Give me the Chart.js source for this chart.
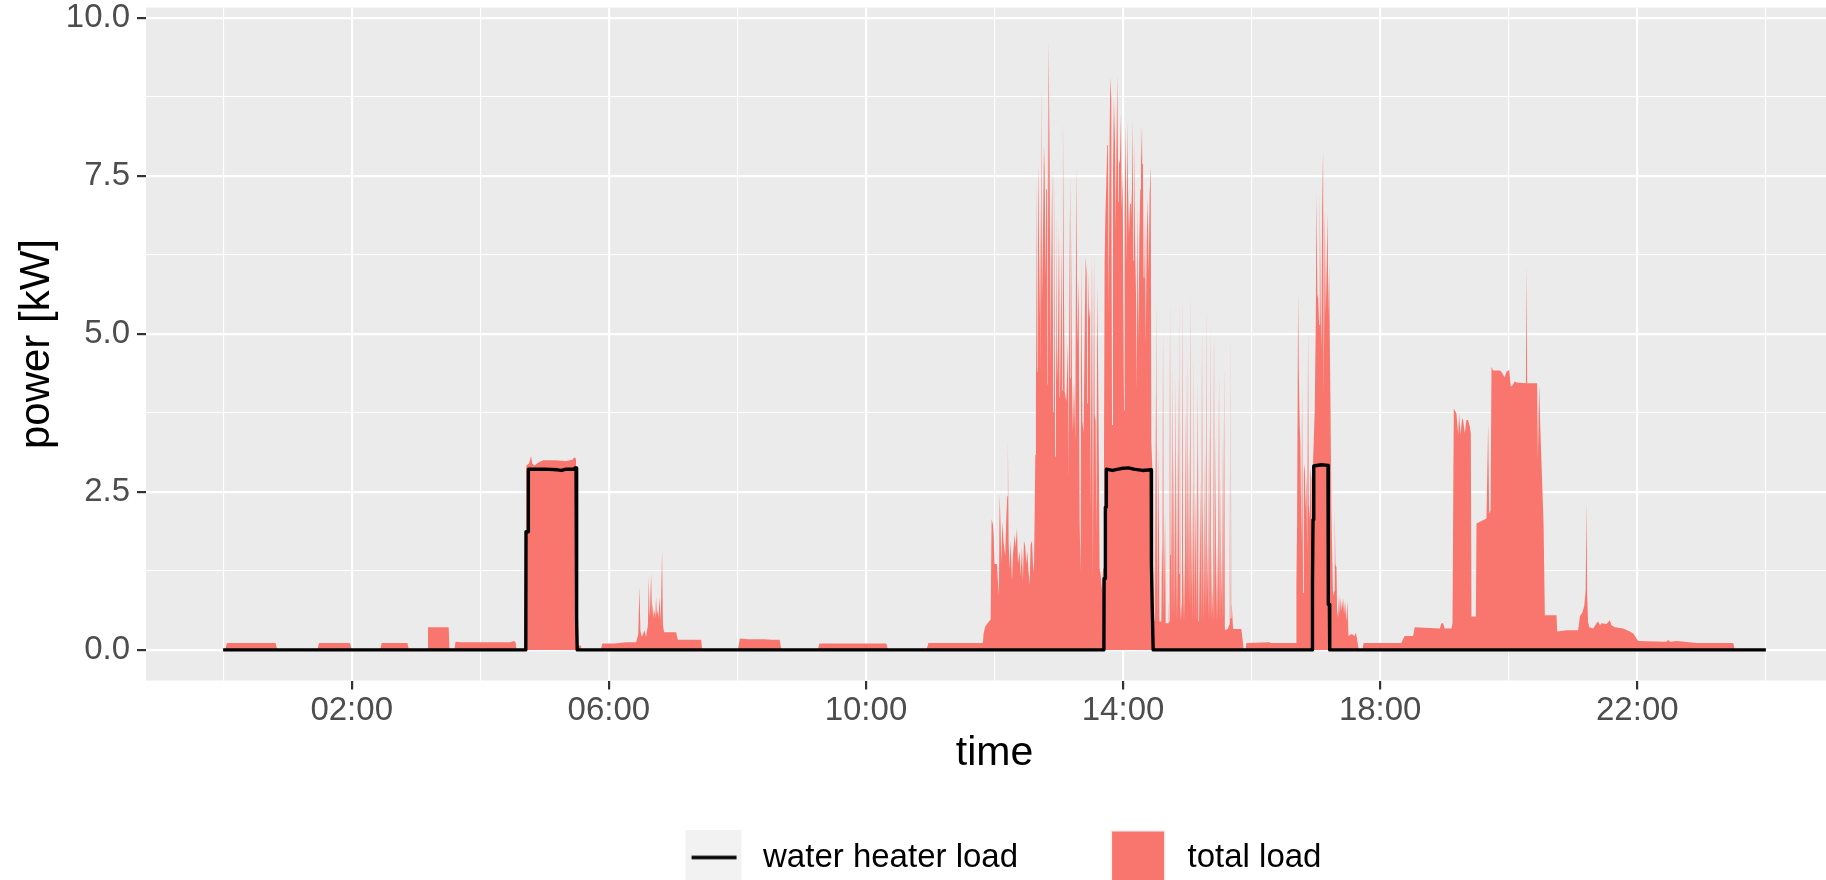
<!DOCTYPE html>
<html><head><meta charset="utf-8">
<script src="https://cdn.jsdelivr.net/npm/chart.js@4/dist/chart.umd.min.js"></script>
<style>
html,body{margin:0;padding:0;background:#ffffff;overflow:hidden;}
#wrap{position:relative;width:1843px;height:884px;}
</style></head><body>
<div id="wrap"><canvas id="c"></canvas></div>
<script>
// ---------- data (minutes since midnight, kW) ----------
const totalMinutes = [
  0, 2, 3.5, 49, 50.5,
  88, 89.5, 118.5, 120,
  146.5, 148, 172, 173.5,
  190.5, 191.2, 210.5, 211.3,
  215.8, 217, 222, 245, 268, 271.5, 273, 273.8,
  282.5, 283, 285.5, 287.4, 288.5, 290.5, 293, 296, 299, 310, 320, 326, 327.9, 329.4, 330, 330.8, 333.8, 334.6,
  352.3, 354, 365, 376, 385.5, 387.5, 388.6, 389.5, 390.8, 392, 393.2, 394.8, 396.5, 397.3, 398, 398.5, 399.5, 400.3,
  401, 401.8, 402.6, 403.4, 404.1, 404.9, 405.7, 406.5, 407.3, 408.5, 409.7, 410.5, 411.3, 411.9, 422.8, 424.4, 446.2, 447.1,
  480.5, 482.3, 490, 505, 512, 519.5, 521,
  555, 556.7, 619, 620.6,
  656.5, 658.3, 709.2, 709.8, 711.4, 713.9, 716.4,
  717.3, 718.5, 719.2, 720.1, 722.3, 723.2, 724.1, 724.8, 725.7, 726.3, 727.3, 728.5, 730.0, 731.0, 731.9, 732.5, 733.2,
  734.1, 735.0, 736.3, 737.2, 738.8, 739.7, 741.0, 741.9, 743.4, 744.4, 745.6, 746.5, 747.5, 748.7, 749.7, 750.6, 751.8,
  752.8, 753.7, 755.0, 755.9, 756.8, 757.4, 758.1, 758.7, 759.6, 760.1, 760.6, 761.2, 762.1, 762.7, 763.2, 763.7, 764.3,
  765.2, 766.2, 766.8, 767.7, 768.3, 769.0, 769.5, 769.9, 770.5, 771.5, 772.4, 773.0, 773.9, 774.9, 775.5, 776.7, 777.4,
  778.3, 779.2, 779.9, 780.3, 780.8, 781.7, 782.7, 783.3, 783.9, 784.5, 785.5, 787.0, 788.6, 789.2, 790.1, 790.6, 791.1,
  792.3, 793.2, 794.2, 795.4, 796.4, 797.3, 798.5, 799.5, 800.4, 801.0, 802.0, 803.2, 804.1, 805.1, 806.0, 806.6, 807.2,
  808.2, 809.1, 809.7, 811.0, 811.9, 812.9, 813.5, 814.4, 815.0, 816.0, 817.2, 818.1, 819.1, 820.3, 821.3,
  822.2, 822.8, 823.4, 824.4, 825.3, 825.9, 826.5, 827.5, 828.1, 829.0, 829.7, 830.6, 831.5, 832.5, 833.1, 833.7, 834.6,
  835.6, 836.2, 837.1, 838.1, 838.7, 839.6, 840.2, 840.9, 841.5, 842.4, 843.4, 844.0, 844.6, 845.5, 846.5, 847.4, 848.0,
  849.0, 849.6, 850.2, 851.1, 852.1, 852.7, 853.6, 854.3, 855.2, 856.1, 856.7, 857.7, 858.3, 859.2, 859.9, 860.5, 861.1,
  862.0, 863.0, 863.9, 864.8, 865.8, 866.4, 867.3,
  868.3, 869.5, 870.1, 870.7, 871.4, 872.1, 873.2, 873.9, 875.7, 876.4, 876.8, 877.3, 878.0, 879.2, 879.8, 882.0, 882.6,
  883.0, 883.5, 884.0, 884.5, 885.2, 886.0, 886.6, 887.3, 888.0, 888.8, 889.6, 890.4, 891.1, 891.9, 892.4, 892.9, 893.6,
  894.4, 894.9, 895.4, 896.1, 896.9, 897.6, 898.5, 899.1, 899.7, 900.6, 901.6, 902.2, 902.8, 903.3, 903.8, 904.5, 905.3,
  905.7, 906.2, 906.8, 907.5, 908.4, 909.4, 910.0, 910.6, 911.4, 912.2, 913.0, 913.7, 914.1, 914.6, 915.5, 916.5, 917.2,
  917.8, 918.2, 918.7, 919.5, 920.3, 920.9, 921.5, 922.0, 922.4, 922.9, 923.4, 924.1, 924.9, 925.5, 926.2, 926.9, 927.7,
  928.6, 929.6, 930.2, 930.8, 931.3, 931.8, 932.5, 933.3, 933.8, 934.3, 935.0, 935.5, 938.0, 939.0, 939.6, 940.0, 940.5,
  941.0, 941.4, 942.7, 950.4, 952.0, 952.6,
  954.3, 955.1, 976.9, 977.5, 1001.5,
  1001.8, 1002.4, 1003.4, 1004.0, 1004.9, 1005.5, 1006.5, 1007.1, 1008.0, 1008.7, 1009.6, 1010.2, 1011.1, 1011.9, 1012.7,
  1013.3, 1014.3, 1014.9, 1015.8, 1016.4, 1017.4, 1018.9, 1019.9, 1020.5, 1021.4, 1022.0, 1023.0, 1023.6, 1024.5, 1025.2,
  1025.8, 1026.7, 1027.3, 1028.3, 1029.2, 1030.1, 1030.8, 1031.7, 1032.3, 1032.9, 1033.6, 1034.5, 1035.4, 1036.0, 1037.0,
  1037.6, 1038.2, 1039.2, 1039.8, 1040.7, 1041.6, 1042.3, 1043.2, 1044.1, 1045.4, 1046.3, 1047.2, 1048.5, 1049.4, 1050.4,
  1053.2, 1056.3, 1057.2, 1058.5, 1059.4, 1060.3,
  1063.5, 1064.5, 1099.8, 1101.5, 1103.0, 1110.7, 1112.3, 1135.6, 1137.2, 1138.7, 1140.3, 1146.5, 1147.5,
  1148.7, 1151.2, 1152.8, 1153.7, 1154.9, 1156.5, 1157.4, 1159.0, 1160.5, 1162.1, 1163.7, 1164.6, 1165.2, 1169.3,
  1169.9, 1179.2, 1180.8, 1181.7, 1183.0, 1183.9, 1185.4, 1191.7, 1193.2, 1194.8, 1196.3, 1197.9, 1200.4, 1201.9,
  1203.5, 1205.7, 1207.2, 1216.0, 1216.6, 1217.2, 1226.5, 1227.2, 1228.4, 1229.5, 1232.5, 1233.7,
  1244.6, 1245.2, 1253.9, 1264.8, 1266.4, 1268.9, 1270.5, 1271.8, 1272.6, 1273.2, 1274.0, 1275.1, 1278.8, 1281.9, 1283.5, 1285.1,
  1286.6, 1291.3, 1294.4, 1295.9, 1299.1, 1306.8, 1313.1, 1316.2, 1319.3, 1320.9, 1347.3, 1348.9, 1350.4, 1356.7,
  1375.3, 1409.6, 1411.1, 1440
];
const totalKW = [
  0, 0, 0.11, 0.11, 0,
  0, 0.11, 0.11, 0,
  0, 0.11, 0.11, 0,
  0, 0.36, 0.36, 0,
  0, 0.13, 0.12, 0.12, 0.12, 0.14, 0.12, 0,
  0, 2.92, 2.95, 3.07, 2.95, 2.92, 2.95, 2.98, 3.0, 3.0, 2.99, 3.01, 3.05, 3.02, 0.3, 0.07, 0.07, 0,
  0, 0.10, 0.10, 0.12, 0.12, 0.25, 1.0, 0.3, 0.21, 0.25, 0.31, 0.21, 0.4, 1.16, 0.5, 0.68, 1.21, 0.55,
  0.74, 0.5, 0.63, 0.5, 0.84, 0.55, 0.63, 0.5, 0.84, 0.45, 1.58, 0.4, 0.31, 0.28, 0.28, 0.16, 0.16, 0,
  0, 0.18, 0.17, 0.17, 0.16, 0.16, 0,
  0, 0.10, 0.10, 0,
  0, 0.11, 0.11, 0.26, 0.37, 0.43, 0.48,
  2.07, 1.99, 1.83, 1.36, 1.36, 1.09, 0.86, 2.46, 1.96, 1.36, 2.03, 1.69, 1.49, 2.09, 2.43, 3.34, 1.69,
  1.29, 1.73, 1.09, 1.49, 1.83, 1.63, 1.93, 1.36, 1.56, 1.16, 1.63, 1.09, 1.73, 1.63, 1.36, 1.56, 1.23,
  1.03, 1.66, 1.73, 1.36, 1.23, 2.03, 3.09, 4.12, 7.42, 4.4, 7.66, 7.09, 5.22, 7.09, 4.3, 8.96, 5.49,
  6.52, 7.99, 7.59, 5.86, 7.29, 8.72, 4.2, 6.09, 9.66, 7.62, 4.56, 6.09, 7.62, 3.76, 7.72, 3.06, 6.92,
  4.22, 4.79, 6.79, 4.0, 6.56, 4.15, 6.52, 4.1, 8.42, 6.46, 4.09, 3.93, 4.86, 2.69, 7.06, 4.3, 7.56,
  4.26, 3.43, 4.26, 3.29, 7.66, 4.82, 5.89, 1.99, 1.23, 6.19, 3.62, 3.43, 4.96, 6.22, 5.96, 3.9, 6.03,
  5.23, 5.43, 2.23, 6.29, 1.16, 6.32, 3.72, 3.62, 1.76, 5.79, 3.49, 1.29, 1.19, 0.96, 1.29,
  3.09, 6.16, 6.79, 7.42, 7.99, 8.29, 5.29, 8.22, 9.06, 8.72, 3.56, 7.59, 8.72, 7.99, 6.62, 7.72, 9.09,
  7.09, 7.69, 7.76, 8.49, 6.96, 7.56, 5.89, 3.79, 6.89, 8.29, 6.09, 8.39, 7.36, 6.56, 7.06, 7.29, 6.79,
  8.39, 6.16, 8.09, 6.56, 5.62, 4.09, 7.09, 4.86, 6.52, 7.29, 8.29, 7.69, 8.36, 5.89, 5.89, 6.96, 4.82,
  6.42, 7.16, 5.96, 7.22, 7.66, 3.29, 2.89,
  0.46, 0.46, 4.15, 0.43, 5.56, 0.43, 3.22, 0.45, 0.45, 1.69, 1.2, 5.16, 0.55, 2.16, 0.42, 0.42, 0.83,
  0.45, 5.27, 1.5, 5.65, 0.45, 4.48, 0.45, 3.19, 0.45, 4.35, 0.45, 3.22, 0.45, 4.38, 1.2, 5.67, 0.45,
  0.76, 0.45, 5.62, 0.45, 1.48, 0.45, 3.85, 0.8, 4.67, 0.79, 3.27, 0.6, 5.70, 0.6, 2.11, 0.45, 2.74,
  1.0, 4.72, 0.45, 2.53, 0.45, 4.27, 0.45, 3.19, 0.45, 2.74, 0.45, 5.12, 0.6, 2.37, 0.45, 3.27, 0.45,
  5.5, 0.6, 1.76, 0.45, 3.64, 0.45, 5.17, 0.5, 1.69, 0.45, 1.0, 0.45, 5.09, 0.45, 3.40, 0.45, 1.71,
  0.45, 4.38, 0.45, 2.74, 0.45, 1.53, 0.45, 3.53, 0.45, 4.54, 0.35, 0.31, 0.34, 0.4, 2.95, 0.5, 5.17,
  0.5, 0.74, 0.33, 0.33, 0.10, 0,
  0, 0.11, 0.12, 0.11, 0.11,
  1.04, 1.95, 5.65, 4.46, 3.53, 3.28, 1.67, 4.16, 0.90, 2.80, 2.94, 2.21, 2.77, 1.5, 5.06,
  2.32, 2.04, 2.88, 2.71, 1.01, 3.0, 3.79, 5.2, 7.24, 5.57, 5.63, 5.14, 7.24, 5.31, 4.75,
  6.95, 7.91, 4.01, 6.98, 5.31, 6.07, 6.92, 5.28, 6.10, 5.03, 3.9, 2.18, 1.36, 0.85, 0.93,
  2.23, 1.36, 1.30, 0.62, 0.51, 0.88, 0.57, 0.82, 0.62, 0.82, 0.57, 0.77, 0.45, 0.77, 0.22,
  0.25, 0.22, 0.28, 0.17, 0.06, 0,
  0, 0.11, 0.11, 0.18, 0.22, 0.22, 0.36, 0.34, 0.42, 0.42, 0.34, 0.34, 0.42,
  3.82, 3.74, 3.40, 3.74, 3.40, 3.66, 3.64, 3.43, 3.64, 3.64, 3.53, 3.43, 0.53, 0.53,
  2.0, 2.08, 3.59, 2.16, 2.21, 4.48, 4.42, 4.42, 4.40, 4.35, 4.32, 4.40, 4.43, 4.17,
  4.19, 4.25, 4.23, 4.22, 6.07, 4.22, 4.22, 3.0, 4.2, 3.5, 2.0, 0.55,
  0.55, 0.29, 0.31, 0.31, 0.53, 0.6, 0.7, 0.95, 2.35, 0.9, 0.45, 0.36, 0.34, 0.42, 0.45, 0.39,
  0.42, 0.41, 0.47, 0.39, 0.36, 0.34, 0.29, 0.26, 0.18, 0.14, 0.13, 0.16, 0.13, 0.14,
  0.11, 0.11, 0, 0
];
const heaterMinutes = [
  0, 282.5, 282.7, 284.7, 284.9, 300, 312, 316, 320, 327.5, 328.5, 329.4, 329.6, 330.3, 330.5,
  822.1, 822.3, 823.3, 823.5, 824.2, 824.4, 830, 838, 845, 850, 858, 866.3, 866.5, 867.2, 868.1,
  1016.6, 1016.8, 1017.3, 1018.0, 1025, 1031.3, 1031.6, 1032.6, 1032.9, 1440
];
const heaterKW = [
  0, 0, 1.87, 1.87, 2.86, 2.86, 2.85, 2.84, 2.86, 2.86, 2.88, 2.88, 0.5, 0.5, 0,
  0, 1.13, 1.13, 2.26, 2.26, 2.86, 2.84, 2.87, 2.88, 2.86, 2.84, 2.85, 1.36, 0.69, 0,
  0, 1.03, 2.06, 2.91, 2.93, 2.92, 0.72, 0.72, 0, 0
];

// ---------- axes / legend text ----------
const xMajorMinutes = [120, 360, 600, 840, 1080, 1320];
const xMajorLabels = ['02:00', '06:00', '10:00', '14:00', '18:00', '22:00'];
const xMinorMinutes = [0, 240, 480, 720, 960, 1200, 1440];
const yMajorValues = [0, 2.5, 5, 7.5, 10];
const yMajorLabels = ['0.0', '2.5', '5.0', '7.5', '10.0'];
const yMinorValues = [1.25, 3.75, 6.25, 8.75];
const seriesNames = ['water heater load', 'total load'];
const xTitle = 'time';
const yTitle = 'power [kW]';

const FONT = '"Liberation Sans", Arial, Helvetica, sans-serif';
Chart.defaults.font.family = FONT;

// legend key pictures (ggplot-like keys)
function makeKey(kind) {
  const c = document.createElement('canvas');
  c.width = 79; c.height = 56;
  const g = c.getContext('2d');
  g.fillStyle = '#F2F2F2';
  g.fillRect(18, 0, 56, 56);
  if (kind === 'line') {
    g.strokeStyle = '#000000';
    g.lineWidth = 3.4;
    g.beginPath(); g.moveTo(24, 28); g.lineTo(69, 28); g.stroke();
  } else {
    g.fillStyle = '#F8766D';
    g.fillRect(20, 2, 52, 52);
  }
  return c;
}
const keyLine = makeKey('line');
const keyArea = makeKey('area');

const panelBg = {
  id: 'panelBg',
  beforeDraw(chart) {
    const a = chart.chartArea; const ctx = chart.ctx;
    ctx.save(); ctx.fillStyle = '#EBEBEB';
    ctx.fillRect(a.left, a.top, a.right - a.left, a.bottom - a.top);
    ctx.restore();
  }
};

const xTicksAll = xMajorMinutes.concat(xMinorMinutes).sort((a, b) => a - b);
const yTicksAll = yMajorValues.concat(yMinorValues).sort((a, b) => a - b);

new Chart(document.getElementById('c'), {
  type: 'line',
  data: {
    datasets: [
      {
        label: seriesNames[0],
        data: heaterMinutes.map((t, i) => ({x: t, y: heaterKW[i]})),
        borderColor: '#000000', borderWidth: 3.4, pointRadius: 0, fill: false,
        tension: 0, borderJoinStyle: 'round', borderCapStyle: 'butt'
      },
      {
        label: seriesNames[1],
        data: totalMinutes.map((t, i) => ({x: t, y: totalKW[i]})),
        borderColor: 'rgba(0,0,0,0)', borderWidth: 0, backgroundColor: '#F8766D',
        pointRadius: 0, fill: 'origin', tension: 0
      }
    ]
  },
  options: {
    responsive: true, maintainAspectRatio: false, animation: false, devicePixelRatio: 1,
    parsing: false,
    layout: {padding: {left: 0, right: 0, top: 7.6, bottom: 0}},
    scales: {
      x: {
        type: 'linear', min: -72, max: 1512,
        afterBuildTicks: s => { s.ticks = xTicksAll.map(v => ({value: v})); },
        afterFit: s => { s.height = 86.5; s.paddingLeft = 0; s.paddingRight = 0; },
        ticks: {
          autoSkip: false, maxRotation: 0, padding: 2, color: '#4D4D4D',
          font: {size: 33},
          callback: v => { const i = xMajorMinutes.indexOf(v); return i >= 0 ? xMajorLabels[i] : ''; }
        },
        grid: {
          color: '#FFFFFF',
          lineWidth: c => (c.tick && xMajorMinutes.includes(c.tick.value)) ? 2.2 : 1.1,
          tickColor: c => (c.tick && xMajorMinutes.includes(c.tick.value)) ? '#333333' : 'rgba(0,0,0,0)',
          tickWidth: 2.2, tickLength: 9
        },
        border: {display: false},
        title: {display: true, text: xTitle, color: '#000000', font: {size: 41, lineHeight: 0.6}, padding: {top: 0, bottom: 1.4}}
      },
      y: {
        type: 'linear', min: -0.484, max: 10.164,
        afterBuildTicks: s => { s.ticks = yTicksAll.map(v => ({value: v})); },
        afterFit: s => { s.width = 146; s.paddingTop = 0; s.paddingBottom = 0; },
        ticks: {
          padding: 7, color: '#4D4D4D', font: {size: 33},
          callback: v => { const i = yMajorValues.indexOf(v); return i >= 0 ? yMajorLabels[i] : ''; }
        },
        grid: {
          color: '#FFFFFF',
          lineWidth: c => (c.tick && yMajorValues.includes(c.tick.value)) ? 2.2 : 1.1,
          tickColor: c => (c.tick && yMajorValues.includes(c.tick.value)) ? '#333333' : 'rgba(0,0,0,0)',
          tickWidth: 2.2, tickLength: 9
        },
        border: {display: false},
        title: {display: true, text: yTitle, color: '#000000', font: {size: 42}, padding: {top: 12.5, bottom: 0}}
      }
    },
    plugins: {
      tooltip: {enabled: false},
      legend: {
        display: true, position: 'bottom', align: 'center', fullSize: false,
        labels: {
          usePointStyle: true, pointStyleWidth: 79, padding: 74,
          color: '#000000', font: {size: 33},
          generateLabels: () => [
            {text: seriesNames[0], pointStyle: keyLine, fillStyle: '#F2F2F2', strokeStyle: 'rgba(0,0,0,0)', lineWidth: 0, fontColor: '#000000', hidden: false, datasetIndex: 0},
            {text: seriesNames[1], pointStyle: keyArea, fillStyle: '#F8766D', strokeStyle: 'rgba(0,0,0,0)', lineWidth: 0, fontColor: '#000000', hidden: false, datasetIndex: 1}
          ]
        }
      }
    }
  },
  plugins: [panelBg]
});
</script>
</body></html>
